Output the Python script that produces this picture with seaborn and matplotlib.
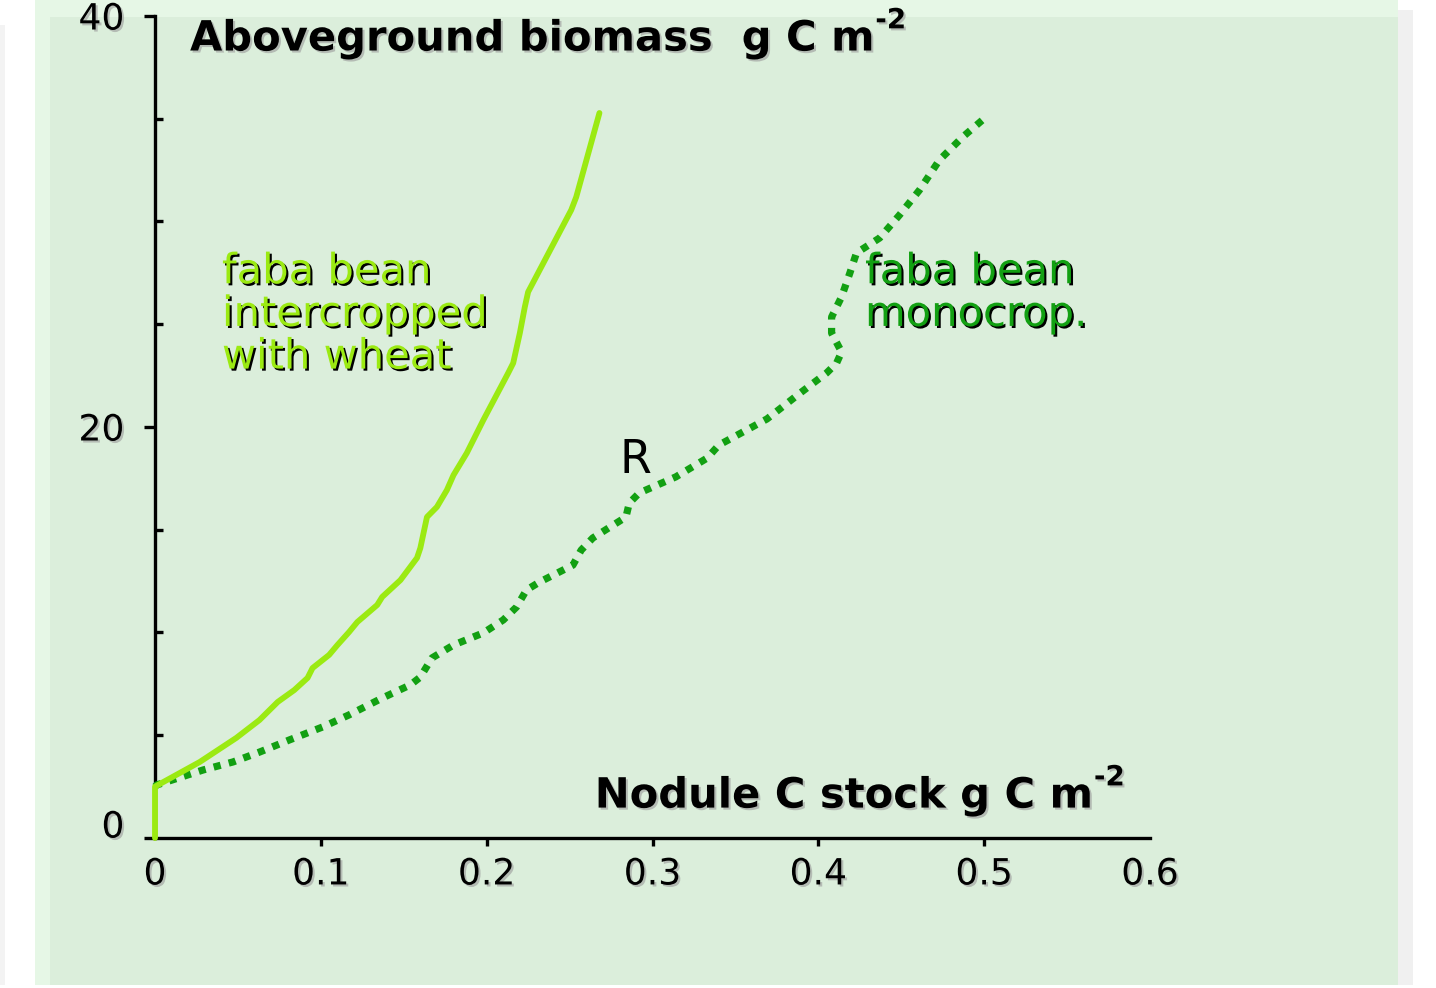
import matplotlib
matplotlib.use("Agg")
import matplotlib.pyplot as plt
import matplotlib.patheffects as pe
from matplotlib.patches import Rectangle
from matplotlib.ticker import MultipleLocator
from matplotlib.transforms import ScaledTranslation
import seaborn as sns

# %% data
inter_x = [0, 0, 0.027, 0.049, 0.063, 0.074, 0.084, 0.092, 0.095, 0.105,
           0.110, 0.117, 0.122, 0.134, 0.137, 0.148, 0.158, 0.160, 0.164, 0.170,
           0.176, 0.180, 0.188, 0.198, 0.213, 0.216, 0.220, 0.223, 0.225, 0.251,
           0.254, 0.259, 0.268]
inter_y = [0, 2.5, 3.7, 4.87, 5.74, 6.62, 7.2, 7.79, 8.27, 8.91,
           9.39, 10.02, 10.51, 11.34, 11.73, 12.55, 13.63, 14.11, 15.62, 16.11,
           16.93, 17.66, 18.73, 20.34, 22.63, 23.11, 24.57, 25.84, 26.57, 30.56,
           31.19, 32.65, 35.28]

mono_x = [0, 0.001, 0.029, 0.047, 0.063, 0.081, 0.101, 0.117, 0.137, 0.154,
          0.160, 0.167, 0.180, 0.198, 0.210, 0.218, 0.224, 0.232, 0.252, 0.257,
          0.264, 0.284, 0.286, 0.292, 0.314, 0.333, 0.340, 0.369, 0.389, 0.405,
          0.411, 0.414, 0.408, 0.408, 0.414, 0.419, 0.423, 0.437, 0.449, 0.461,
          0.473, 0.487, 0.499]
mono_y = [2.5, 2.58, 3.31, 3.70, 4.18, 4.77, 5.40, 5.99, 6.81, 7.45,
          7.83, 8.76, 9.39, 9.98, 10.61, 11.24, 12.07, 12.46, 13.28, 14.01,
          14.60, 15.62, 16.30, 16.79, 17.57, 18.49, 19.12, 20.39, 21.65, 22.63,
          23.11, 23.65, 24.57, 25.35, 26.33, 27.49, 28.47, 29.20, 30.32, 31.53,
          32.99, 34.11, 34.94]

x_ticks = [0, 0.1, 0.2, 0.3, 0.4, 0.5, 0.6]
x_labels = ["0", "0.1", "0.2", "0.3", "0.4", "0.5", "0.6"]
y_ticks = [0, 20, 40]
y_labels = ["0", "20", "40"]

light_green = "#9bea12"
dark_green = "#12a012"

# %% style
sns.set_style("ticks")
plt.rcParams["font.family"] = ["DejaVu Sans"]

W, H = 1436, 988
fig = plt.figure(figsize=(W / 100, H / 100), dpi=100, facecolor="white")


def px_rect(x0, y0, x1, y1, color):
    # rectangle in pixel coords, y measured from the top
    fig.add_artist(Rectangle((x0 / W, 1 - y1 / H), (x1 - x0) / W, (y1 - y0) / H,
                             transform=fig.transFigure, color=color, lw=0, zorder=-10))


px_rect(0, 25, 5, 985, "#f3f3f3")
px_rect(1398, 10, 1413, 985, "#f0f0f0")
px_rect(35, 0, 1398, 985, "#e6f7e6")
px_rect(50, 17, 1398, 985, "#dbeedb")

ax = fig.add_axes([155 / W, 1 - 838 / H, 995 / W, 822 / H])
ax.set_facecolor("none")

# %% curves
sns.lineplot(x=mono_x, y=mono_y, sort=False, estimator=None, ax=ax,
             color=dark_green, lw=5.2, linestyle=(0, (1, 1.15)),
             dash_capstyle="butt", zorder=6, clip_on=False)
sns.lineplot(x=inter_x, y=inter_y, sort=False, estimator=None, ax=ax,
             color=light_green, lw=4.2, solid_joinstyle="round", zorder=7,
             clip_on=False)

ax.set_xlim(0, 0.6)
ax.set_ylim(0, 40)

# %% axes look
for s in ["top", "right"]:
    ax.spines[s].set_visible(False)
for s in ["left", "bottom"]:
    ax.spines[s].set_linewidth(2.4)
    ax.spines[s].set_color("black")
    ax.spines[s].set_zorder(5)

shadow = [pe.SimplePatchShadow(offset=(1.5, -1.5), shadow_rgbFace="#9a9a9a", alpha=0.6),
          pe.Normal()]

ax.set_xticks(x_ticks)
ax.set_xticklabels(x_labels, fontsize=26, color="black", path_effects=shadow)
ax.set_yticks(y_ticks)
ax.set_yticklabels(y_labels, fontsize=26, color="black", path_effects=shadow)
ax.yaxis.set_minor_locator(MultipleLocator(5))
ax.tick_params(axis="x", which="major", direction="out", length=6, width=2.4, pad=8,
               color="black")
ax.tick_params(axis="y", which="major", direction="out", length=8, width=2.4, pad=14,
               color="black")
ax.tick_params(axis="y", which="minor", direction="in", length=6, width=2.4,
               color="black")
xt = ax.xaxis.get_major_ticks()
xt[0].tick1line.set_visible(False)
xt[-1].tick1line.set_visible(False)

# the "0" on the y axis sits a bit higher in the original
lab0 = ax.get_yticklabels()[0]
lab0.set_transform(lab0.get_transform() + ScaledTranslation(0, 14 / 100, fig.dpi_scale_trans))

# %% axis titles inside the plot
bold = dict(family=["DejaVu Sans"], fontweight="bold", color="black")
t1 = ax.text(0.0352, 0.958, "Aboveground biomass  g C m", transform=ax.transAxes,
             fontsize=30, va="baseline", ha="left", path_effects=shadow, **bold)
ax.annotate("-2", xy=(1, 0.6), xycoords=t1, xytext=(1, 0), textcoords="offset points",
            fontsize=20, va="bottom", ha="left", path_effects=shadow, **bold)
t2 = ax.text(0.442, 0.037, "Nodule C stock g C m", transform=ax.transAxes,
             fontsize=30, va="baseline", ha="left", path_effects=shadow, **bold)
ax.annotate("-2", xy=(1, 0.6), xycoords=t2, xytext=(1, 0), textcoords="offset points",
            fontsize=20, va="bottom", ha="left", path_effects=shadow, **bold)

# %% curve labels
dark_shadow = [pe.SimplePatchShadow(offset=(1.5, -1.5), shadow_rgbFace="black", alpha=1),
               pe.Normal()]
ax.text(0.0673, 0.715, "faba bean\nintercropped\nwith wheat", transform=ax.transAxes,
        family=["DejaVu Sans"], fontsize=30, color=light_green,
        va="top", ha="left", linespacing=1.02, path_effects=dark_shadow)
ax.text(0.7136, 0.715, "faba bean\nmonocrop.", transform=ax.transAxes,
        family=["DejaVu Sans"], fontsize=30, color=dark_green,
        va="top", ha="left", linespacing=1.02, path_effects=dark_shadow)
ax.text(0.290, 18.35, "R", fontsize=33, color="black", ha="center", va="center")

fig.savefig("out.png", dpi=100, facecolor=fig.get_facecolor())
